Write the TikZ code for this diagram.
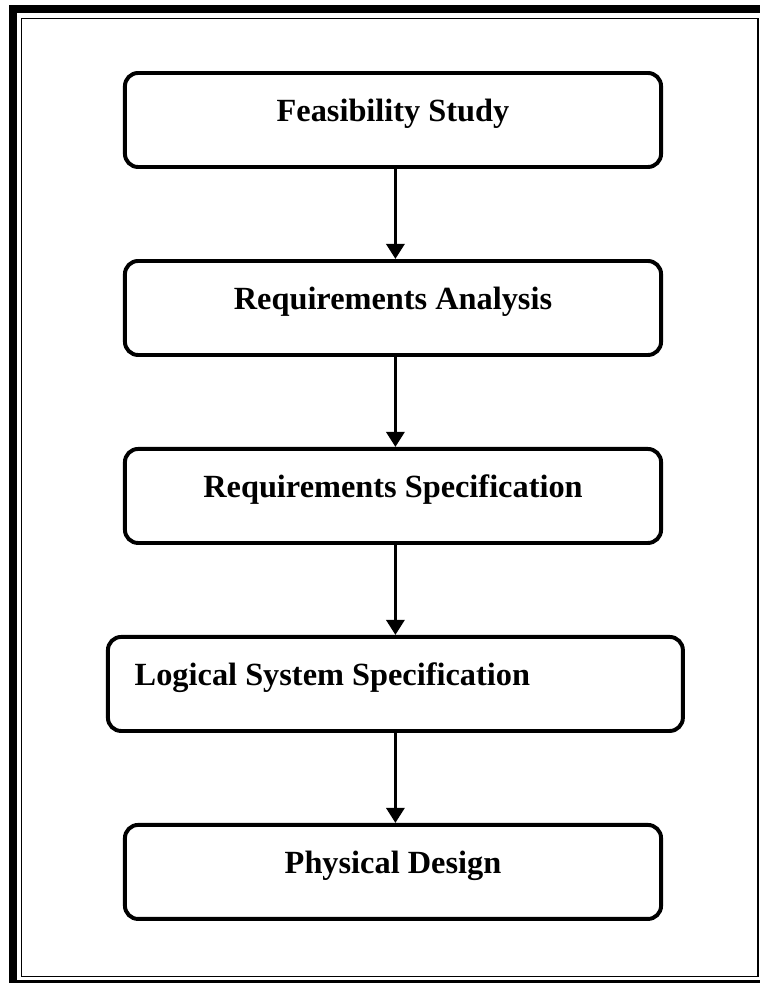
\documentclass[tikz,border=0pt]{standalone}
\usepackage{fontspec}
\setmainfont{Liberation Serif}
\usetikzlibrary{arrows.meta, positioning}

\begin{document}
\begin{tikzpicture}[
  x=0.025cm, y=-0.025cm,
  node distance=2.25cm,
  box/.style={
    draw,
    rectangle,
    rounded corners=0.33cm,
    line width=2.8pt,
    minimum width=13.4cm,
    minimum height=2.35cm,
    text height=0.62cm,
    text depth=0.52cm,
    font=\fontsize{23}{27}\selectfont\bfseries
  },
  arrow/.style={-{Triangle[length=0.38cm, width=0.45cm]}, line width=2.6pt}
]

\useasboundingbox (0,0) rectangle (759,983);

% double frame round the chart
\draw[line width=5pt] (13,9) rectangle (766,984);
\draw[line width=1.4pt] (21.5,18.5) rectangle (758,976.5);

\node[box] (feasibility) at (393,120) {Feasibility Study};
\node[box, below=of feasibility] (analysis) {Requirements Analysis};
\node[box, below=of analysis] (reqspec) {Requirements Specification};
\node[box, below=of reqspec, xshift=0.06cm, minimum width=14.37cm]
  (logical) {\makebox[13.03cm][l]{Logical System Specification}};
\node[box, below=of logical, xshift=-0.06cm] (physical) {Physical Design};

% straight down, all at the same x
\draw[arrow] ([xshift=0.06cm]feasibility.south) -- ([xshift=0.06cm]feasibility.south |- analysis.north);
\draw[arrow] ([xshift=0.06cm]analysis.south) -- ([xshift=0.06cm]analysis.south |- reqspec.north);
\draw[arrow] ([xshift=0.06cm]reqspec.south) -- ([xshift=0.06cm]reqspec.south |- logical.north);
\draw[arrow] ([xshift=0.06cm]reqspec.south |- logical.south) -- ([xshift=0.06cm]reqspec.south |- physical.north);

\end{tikzpicture}
\end{document}
